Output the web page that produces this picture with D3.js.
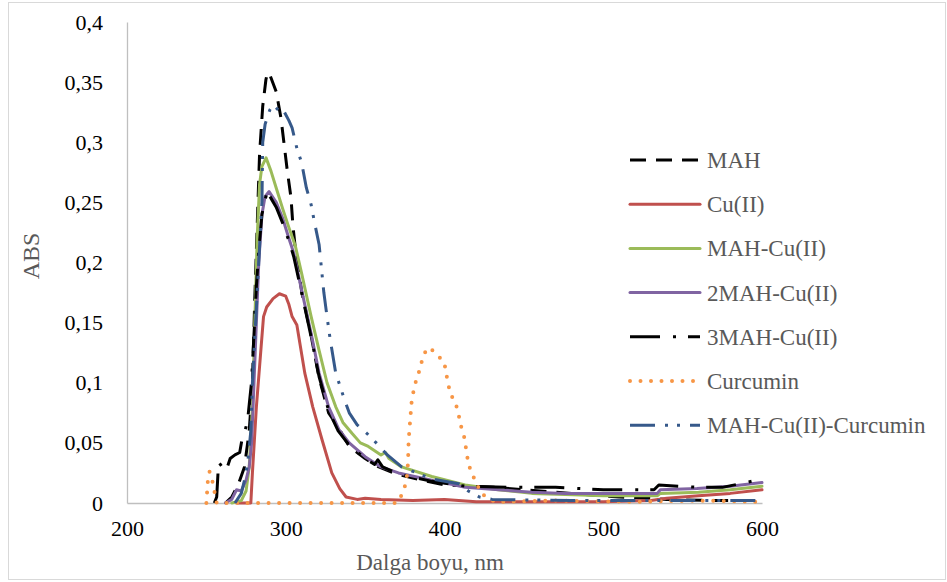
<!DOCTYPE html>
<html>
<head>
<meta charset="utf-8">
<script src="https://cdn.jsdelivr.net/npm/d3@7"></script>
<style>
  body { margin: 0; background: #fff; }
  text { font-family: "Liberation Serif", serif; }
</style>
</head>
<body>
<div id="chart"></div>
<script>
// wavelength (nm), absorbance
var mah = [[262,0],[266,0.005],[270,0.015],[274,0.03],[277,0.06],[279,0.1],[280.5,0.17],[282,0.23],[283.5,0.29],[285.5,0.33],[287.5,0.352],[288.5,0.358],[290,0.356],[294,0.342],[297,0.32],[299,0.298],[301,0.276],[303.3,0.254],[304.5,0.231],[306,0.212],[310,0.176],[316,0.139],[321,0.104],[327,0.075],[333.5,0.062],[340,0.047],[345,0.042],[350,0.037],[358.6,0.03],[370,0.024],[385.6,0.019],[400,0.015],[432,0.013],[450,0.011],[480,0.008],[510,0.005],[540,0.003],[570,0.002],[600,0.002]];
var cu = [[270,0],[278,0],[279,0.025],[281.5,0.08],[284.5,0.13],[286,0.155],[288,0.163],[292,0.17],[296,0.174],[300,0.172],[302,0.165],[304,0.155],[307,0.148],[312,0.108],[317,0.08],[323,0.052],[329,0.025],[334,0.012],[338,0.005],[345,0.003],[350,0.004],[360,0.003],[380,0.002],[400,0.003],[420,0.001],[450,0.001],[500,0.001],[530,0.002],[540,0.004],[560,0.006],[580,0.008],[600,0.011]];
var mahCu = [[266,0],[272,0.002],[275,0.01],[277,0.03],[279,0.08],[280.5,0.15],[282,0.22],[283.5,0.265],[285,0.28],[287.6,0.287],[290.7,0.276],[294,0.262],[298,0.245],[302,0.229],[306,0.214],[310,0.191],[316,0.155],[321,0.127],[326,0.1],[331.5,0.08],[336,0.067],[341.7,0.058],[347,0.05],[352,0.047],[360,0.04],[362.8,0.042],[365,0.037],[373,0.03],[392,0.022],[413,0.015],[434,0.011],[455,0.008],[476,0.007],[500,0.006],[534,0.006],[536,0.008],[560,0.009],[580,0.011],[600,0.014]];
var mah2Cu = [[262,0],[266,0.003],[269,0.011],[272,0.01],[275,0.019],[277,0.03],[278.5,0.05],[280,0.1],[281.5,0.15],[283,0.2],[285,0.24],[287,0.255],[289.5,0.259],[294,0.25],[298,0.237],[302,0.22],[305,0.208],[310,0.177],[316,0.141],[321,0.108],[327,0.08],[333.5,0.061],[340,0.05],[350,0.0385],[360,0.03],[371,0.025],[392,0.019],[413,0.013],[434,0.011],[455,0.009],[476,0.008],[517,0.008],[534,0.008],[536,0.011],[559,0.012],[580,0.014],[600,0.017]];
var mah3Cu = [[255,0],[256.5,0.005],[257.7,0.034],[260,0.03],[262.5,0.027],[265,0.037],[268,0.04],[271,0.042],[272.7,0.055],[274,0.058],[276,0.069],[277,0.082],[278.4,0.1],[280,0.14],[281.5,0.18],[283,0.21],[285,0.24],[287,0.252],[288.5,0.26],[290,0.255],[294,0.246],[298,0.233],[302,0.218],[305,0.205],[310,0.175],[316,0.138],[321,0.105],[327,0.077],[333,0.06],[340,0.048],[350,0.037],[356,0.032],[358,0.036],[361,0.03],[371,0.024],[392,0.018],[413,0.014],[440,0.013],[470,0.013],[500,0.011],[532,0.011],[535,0.015],[560,0.013],[575,0.013],[590,0.017],[600,0.02]];
var curcumin = [[250,0],[251,0.02],[252,0.026],[253.5,0.02],[255,0.01],[256.5,0],[300,0],[370,0],[373.6,0.008],[376,0.018],[377,0.033],[377.4,0.052],[378.5,0.071],[379.4,0.086],[381,0.096],[382.5,0.104],[384.8,0.112],[386,0.12],[388.7,0.128],[391,0.129],[393.7,0.125],[397,0.121],[400,0.116],[401,0.108],[403.6,0.091],[406.7,0.084],[408.8,0.075],[409.8,0.066],[412,0.058],[413,0.05],[415,0.033],[417,0.025],[420,0.017],[423,0.008],[427.6,0.004],[432,0.001],[470,0.002],[520,0.001],[560,0.002],[600,0.001]];
var mahCuCur = [[268,0],[272,0.008],[274,0.019],[276,0.033],[278,0.06],[279,0.1],[281,0.15],[283,0.2],[285,0.25],[285.5,0.3],[287,0.315],[290,0.327],[292,0.331],[296,0.326],[298,0.328],[302,0.318],[304,0.312],[307,0.295],[310,0.283],[313,0.262],[316,0.248],[318,0.234],[321,0.215],[324,0.175],[326,0.155],[328,0.136],[331.5,0.108],[337,0.086],[340,0.075],[345,0.065],[351,0.058],[357,0.05],[364,0.04],[373,0.03],[392,0.02],[409,0.016],[415,0.01],[422,0.005],[430,0.003],[480,0.002],[520,0.002],[560,0.002],[600,0.002]];

var seriesNames = ["MAH", "Cu(II)", "MAH-Cu(II)", "2MAH-Cu(II)", "3MAH-Cu(II)", "Curcumin", "MAH-Cu(II)-Curcumin"];
var xTicks = [200, 300, 400, 500, 600];
var yTicks = [0, 0.05, 0.1, 0.15, 0.2, 0.25, 0.3, 0.35, 0.4];

var series = [
  {id: seriesNames[0], values: mah, color: "#000000", dash: "16,10", cap: "butt"},
  {id: seriesNames[1], values: cu, color: "#c0504d", dash: null, cap: "round"},
  {id: seriesNames[2], values: mahCu, color: "#9bbb59", dash: null, cap: "round"},
  {id: seriesNames[3], values: mah2Cu, color: "#8064a2", dash: null, cap: "round"},
  {id: seriesNames[4], values: mah3Cu, color: "#000000", dash: "30,13,3,12", cap: "butt"},
  {id: seriesNames[5], values: curcumin, color: "#f79646", dash: "0,10.5", cap: "round"},
  {id: seriesNames[6], values: mahCuCur, color: "#36598a", dash: "25,10,3,9,3,10", cap: "butt"}
];

var W = 947, H = 582;
var margin = {top: 22, right: 185, bottom: 79, left: 127};
var dims = {width: W - margin.left - margin.right, height: H - margin.top - margin.bottom};

var svg = d3.select("#chart").append("svg")
    .attr("width", W)
    .attr("height", H);

// outer chart border
svg.append("rect")
  .attr("x", 8.5).attr("y", 2.5)
  .attr("width", 937).attr("height", 577)
  .attr("fill", "none")
  .attr("stroke", "#d9d9d9");

var g = svg.append("g")
  .attr("transform", "translate(" + margin.left + "," + margin.top + ")");

var x = d3.scaleLinear().domain([200, 600]).range([0, dims.width]);
var y = d3.scaleLinear().domain([0, 0.4]).range([dims.height, 0]);

var fmt = function(d) { return String(d).replace(".", ","); };

// x axis
var xAxis = g.append("g")
  .attr("transform", "translate(0," + dims.height + ")")
  .call(d3.axisBottom(x).tickValues(xTicks).tickSize(0).tickPadding(17));
xAxis.select(".domain").attr("stroke", "#bfbfbf").attr("stroke-width", 1.3);
xAxis.selectAll("text").attr("font-size", 22).attr("fill", "#000")
  .attr("font-family", "Liberation Serif");

// y axis
var yAxis = g.append("g")
  .call(d3.axisLeft(y).tickValues(yTicks).tickFormat(fmt).tickSize(0).tickPadding(24));
yAxis.select(".domain").attr("stroke", "#bfbfbf").attr("stroke-width", 1.3);
yAxis.selectAll("text").attr("font-size", 22).attr("fill", "#000")
  .attr("font-family", "Liberation Serif");

// lines
var line = d3.line()
  .x(function(d) { return x(d[0]); })
  .y(function(d) { return y(d[1]); });

g.selectAll(".series")
  .data(series)
  .enter()
  .append("path")
    .attr("class", "series")
    .attr("fill", "none")
    .attr("stroke", function(d) { return d.color; })
    .attr("stroke-width", function(d) { return d.id == "Curcumin" ? 4 : 3; })
    .attr("stroke-linecap", function(d) { return d.cap; })
    .attr("stroke-linejoin", "round")
    .attr("stroke-dasharray", function(d) { return d.dash; })
    .attr("d", function(d) { return line(d.values); });

// axis titles
svg.append("text")
  .attr("x", 430).attr("y", 570)
  .attr("text-anchor", "middle")
  .attr("font-size", 23)
  .attr("fill", "#595959")
  .text("Dalga boyu, nm");

svg.append("text")
  .attr("transform", "translate(39,256) rotate(-90)")
  .attr("text-anchor", "middle")
  .attr("font-size", 24)
  .attr("fill", "#595959")
  .text("ABS");

// legend
var legend = svg.selectAll(".legend")
  .data(series)
  .enter()
  .append("g")
    .attr("class", "legend")
    .attr("transform", function(d, i) { return "translate(630," + (160 + i * 44.2) + ")"; });

legend.append("line")
  .attr("x1", 0).attr("x2", 70)
  .attr("y1", 0).attr("y2", 0)
  .attr("stroke", function(d) { return d.color; })
  .attr("stroke-width", function(d) { return d.id == "Curcumin" ? 4 : 3; })
  .attr("stroke-linecap", function(d) { return d.cap; })
  .attr("stroke-dasharray", function(d) { return d.dash; });

legend.append("text")
  .attr("x", 77).attr("y", 8)
  .attr("font-size", 23)
  .attr("fill", "#595959")
  .text(function(d) { return d.id; });
</script>
</body>
</html>
